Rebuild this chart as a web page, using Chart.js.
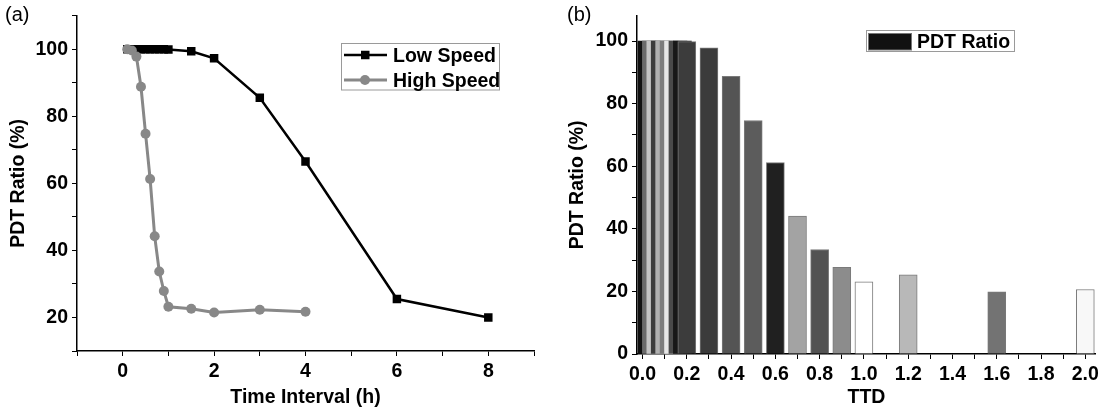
<!DOCTYPE html>
<html lang="en">
<head>
<meta charset="UTF-8">
<title>PDT Ratio</title>
<script src="https://cdn.jsdelivr.net/npm/chart.js"></script>
<style>
  body { margin: 0; background: #fff; width: 1103px; height: 413px; overflow: hidden; position: relative;
         font-family: 'Liberation Sans', Arial, sans-serif; }
  .panel { position: absolute; top: 0; height: 413px; }
  #boxA { left: 0; width: 560px; }
  #boxB { left: 560px; width: 543px; }
  .tag { position: absolute; top: 3px; font-size: 20px; color: #000; }
</style>
</head>
<body>
<div class="panel" id="boxA"><canvas id="chartA"></canvas></div>
<div class="panel" id="boxB"><canvas id="chartB"></canvas></div>
<span class="tag" style="left:5px">(a)</span>
<span class="tag" style="left:567px">(b)</span>
<script>
// (a) PDT ratio vs time interval
const timeLow   = [0.1, 0.2, 0.3, 0.4, 0.5, 0.6, 0.7, 0.8, 0.9, 1.0, 1.5, 2, 3, 4, 6, 8];
const lowSpeed  = [100, 100, 100, 100, 100, 100, 100, 100, 100, 99.9, 99.4, 97.3, 85.5, 66.5, 25.5, 20.0];
const timeHigh  = [0.1, 0.2, 0.3, 0.4, 0.5, 0.6, 0.7, 0.8, 0.9, 1.0, 1.5, 2, 3, 4];
const highSpeed = [100, 99.6, 97.8, 88.8, 74.8, 61.3, 44.2, 33.7, 27.9, 23.2, 22.6, 21.5, 22.3, 21.7];
const ticksAX  = [-1, 0, 1, 2, 3, 4, 5, 6, 7, 8, 9];
const labelsAX = [0, 2, 4, 6, 8];
const ticksAY  = [10, 20, 30, 40, 50, 60, 70, 80, 90, 100, 110];
const labelsAY = [20, 40, 60, 80, 100];

// (b) PDT ratio vs TTD
const ttd   = [0.02, 0.04, 0.06, 0.08, 0.10, 0.12, 0.14, 0.16, 0.18, 0.2, 0.3, 0.4, 0.5, 0.6, 0.7, 0.8, 0.9, 1.0, 1.2, 1.6, 2.0];
const ratio = [100, 100, 100, 100, 100, 100, 100, 100, 100, 99.8, 97.8, 88.7, 74.6, 61.2, 44.1, 33.4, 27.7, 23.1, 25.3, 19.9, 20.6];
const shades = ['#111111', '#6a6a6a', '#c4c4c4', '#3c3c3c', '#b0b0b0', '#7c7c7c', '#e6e6e6', '#4a4a4a', '#181818',
                '#3c3c3c', '#3b3b3b', '#545454', '#5c5c5c', '#202020', '#a3a3a3', '#525252', '#8c8c8c', '#ffffff',
                '#b8b8b8', '#737373', '#f8f8f8'];
const ticksBX  = [0.0, 0.1, 0.2, 0.3, 0.4, 0.5, 0.6, 0.7, 0.8, 0.9, 1.0, 1.1, 1.2, 1.3, 1.4, 1.5, 1.6, 1.7, 1.8, 1.9, 2.0];
const labelsBX = [0.0, 0.2, 0.4, 0.6, 0.8, 1.0, 1.2, 1.4, 1.6, 1.8, 2.0];
const ticksBY  = [0, 10, 20, 30, 40, 50, 60, 70, 80, 90, 100];
const labelsBY = [0, 20, 40, 60, 80, 100];

const FONT = { family: "'Liberation Sans', Arial, sans-serif", size: 19.5, weight: 'bold' };
const LEGEND_FONT = 'bold 19.5px "Liberation Sans", Arial, sans-serif';

function axis(min, max, tickList, fmt, title, fit, titlePad) {
  return {
    type: 'linear', min: min, max: max, offset: false,
    afterBuildTicks: s => { s.ticks = tickList.map(v => ({ value: v })); },
    afterFit: fit,
    ticks: { callback: fmt, font: FONT, color: '#000', padding: 4, autoSkip: false, maxRotation: 0 },
    grid: { drawOnChartArea: false, drawTicks: true, tickLength: 5, color: '#000', lineWidth: 1, offset: false },
    border: { display: true, color: '#000', width: 1.5 },
    title: { display: true, text: title, font: FONT, color: '#000', padding: titlePad }
  };
}

// legend boxes drawn inside the plot, like the original
const legendA = {
  id: 'legendA',
  afterDraw(chart) {
    const c = chart.ctx;
    c.save();
    c.strokeStyle = '#9a9a9a'; c.lineWidth = 1;
    c.strokeRect(341.5, 43.5, 158, 46.5);
    c.font = LEGEND_FONT;
    const rows = [
      { y: 55, col: '#000', w: 2.5, label: chart.data.datasets[1].label, square: true, base: 62.3 },
      { y: 80, col: '#888', w: 3, label: chart.data.datasets[0].label, square: false, base: 87.3 }
    ];
    rows.forEach(r => {
      c.strokeStyle = r.col; c.lineWidth = r.w;
      c.beginPath(); c.moveTo(344, r.y); c.lineTo(387, r.y); c.stroke();
      c.fillStyle = r.col;
      if (r.square) c.fillRect(361, r.y - 4.25, 8.5, 8.5);
      else { c.beginPath(); c.arc(365, r.y, 5, 0, Math.PI * 2); c.fill(); }
      c.fillStyle = '#000';
      c.fillText(r.label, 393, r.base);
    });
    c.restore();
  }
};

const legendB = {
  id: 'legendB',
  afterDraw(chart) {
    const c = chart.ctx;
    c.save();
    c.strokeStyle = '#9a9a9a'; c.lineWidth = 1;
    c.strokeRect(306.5, 30.5, 148, 21);
    c.fillStyle = shades[0];
    c.fillRect(308.5, 33.5, 43, 16.5);
    c.strokeStyle = '#777';
    c.strokeRect(308.5, 33.5, 43, 16.5);
    c.fillStyle = '#000';
    c.font = LEGEND_FONT;
    c.fillText(chart.data.datasets[0].label, 357, 47.7);
    c.restore();
  }
};

new Chart(document.getElementById('chartA'), {
  type: 'line',
  data: {
    datasets: [
      {
        label: 'High Speed',
        data: timeHigh.map((t, i) => ({ x: t, y: highSpeed[i] })),
        borderColor: '#888', backgroundColor: '#888', borderWidth: 3,
        pointStyle: 'circle', pointRadius: 5, pointBorderWidth: 0, pointBackgroundColor: '#888'
      },
      {
        label: 'Low Speed',
        data: timeLow.map((t, i) => ({ x: t, y: lowSpeed[i] })),
        borderColor: '#000', backgroundColor: '#000', borderWidth: 2.5,
        pointStyle: 'rect', pointRadius: 6, pointBorderWidth: 0, pointBackgroundColor: '#000'
      }
    ]
  },
  options: {
    responsive: true, maintainAspectRatio: false, animation: false, events: [],
    layout: { padding: { top: 10, right: 26, left: 0, bottom: 0 } },
    plugins: { legend: { display: false }, tooltip: { enabled: false } },
    scales: {
      x: axis(-1, 9, ticksAX, v => labelsAX.includes(v) ? String(v) : '', 'Time Interval (h)',
              s => { s.height = 62; }, { top: 0, bottom: 4 }),
      y: axis(10, 110, ticksAY, v => labelsAY.includes(v) ? String(v) : '', 'PDT Ratio (%)',
              s => { s.width = 77; }, { top: 7, bottom: 0 })
    }
  },
  plugins: [legendA]
});

new Chart(document.getElementById('chartB'), {
  type: 'bar',
  data: {
    datasets: [{
      label: 'PDT Ratio',
      data: ttd.map((t, i) => ({ x: t, y: ratio[i] })),
      backgroundColor: shades,
      // the narrow stripes near zero show no outline, the full bars do
      borderColor: '#7a7a7a',
      borderWidth: ctx => ctx.dataIndex < 9 ? 0 : 1,
      barThickness: 18, grouped: false
    }]
  },
  options: {
    responsive: true, maintainAspectRatio: false, animation: false, events: [],
    layout: { padding: { top: 10, right: 6, left: 0, bottom: 0 } },
    plugins: { legend: { display: false }, tooltip: { enabled: false } },
    scales: {
      x: axis(-0.025, 2.048, ticksBX, v => labelsBX.includes(v) ? v.toFixed(1) : '', 'TTD',
              s => { s.height = 59; }, { top: 0, bottom: 4 }),
      y: axis(0, 108.1, ticksBY, v => labelsBY.includes(v) ? String(v) : '', 'PDT Ratio (%)',
              s => { s.width = 77; }, { top: 6, bottom: 0 })
    }
  },
  plugins: [legendB]
});
</script>
</body>
</html>
